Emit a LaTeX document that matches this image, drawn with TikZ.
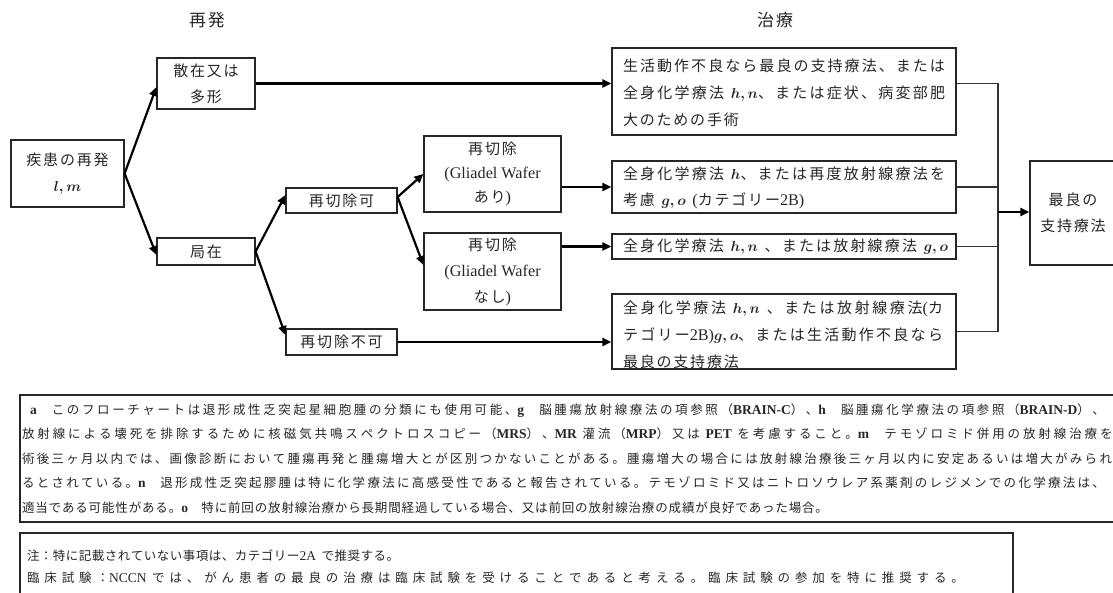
\documentclass[tikz,border=0pt]{standalone}
\usepackage{fontspec}
\setmainfont{Noto Sans CJK JP}
\newfontfamily\lat[Scale=1.08]{Liberation Serif}
\usetikzlibrary{arrows.meta}
% inter-character spacing for CJK text
\newXeTeXintercharclass\cjkc
\newcount\cjkn
\def\setcjkrange#1#2{\cjkn=#1\relax\loop\XeTeXcharclass\cjkn=\cjkc\relax\ifnum\cjkn<#2\relax\advance\cjkn by 1\relax\repeat}
\setcjkrange{"3000}{"30FF}
\setcjkrange{"4E00}{"9FFF}
\setcjkrange{"FF00}{"FFEF}
\newskip\cjkskip
\XeTeXinterchartoks\cjkc\cjkc={\hskip\cjkskip}
\XeTeXinterchartokenstate=1
\definecolor{txt}{HTML}{262626}
\newcommand\la[1]{{\lat #1}}
\newcommand\lb[1]{{\lat\bfseries #1}}
\newcommand\hm[1]{{\boldmath$#1$}}
\newcommand\gap{\hskip 0.45em\relax}
% justified line of given width, left aligned in a line of \hsize
\newcommand\jl[2]{\hbox to\hsize{\hbox to #1{\advance\cjkskip by 0pt plus 1fil\relax #2}\hss}}
% natural line, left aligned in a line of \hsize
\newcommand\nl[1]{\hbox to\hsize{#1\hss}}
\newcommand\mfont{\fontsize{15}{26}\selectfont\cjkskip=1.8pt\relax}
\newcommand\afont{\fontsize{15}{24}\selectfont\cjkskip=1.8pt\relax}
\newcommand\ffont{\fontsize{12.5}{24.5}\selectfont\cjkskip=0.8pt\relax}
\newcommand\nfont{\fontsize{12.5}{22}\selectfont\cjkskip=0.5pt\relax}
\newcommand\hfont{\fontsize{17}{20}\selectfont\cjkskip=2pt\relax}
\tikzset{
  frame/.style={draw=black!85, line width=1.2pt, inner sep=0pt, text=txt},
  box/.style={frame, align=center, font=\mfont},
  tbox/.style={frame, font=\mfont, minimum width=344pt},
  fbox/.style={frame, font=\ffont},
  hdr/.style={inner sep=0pt, text=txt, font=\hfont},
  thk/.style={line width=2.2pt, -{Triangle[length=9pt,width=8pt]}},
  thn/.style={line width=1.5pt, draw=black!80},
}
\begin{document}
\begin{tikzpicture}[x=1pt,y=-1pt]
\useasboundingbox (0,0) rectangle (1113,592);
% headers
\node[hdr] (hr) at (207,20) {再発};
\node[hdr] (ht) at (775,20) {治療};
% left tree
\node[box, minimum width=113pt, minimum height=67pt] (shikkan) at (67.5,173.5) {疾患の再発\\\hm{l, m}};
\node[box, minimum width=98pt, minimum height=51pt] (sanzai) at (206,83.5) {散在又は\\多形};
\node[box, minimum width=98pt, minimum height=27pt] (kyoku) at (206,251.5) {局在};
\node[box, minimum width=111pt, minimum height=25pt] (kakano) at (341.5,200.5) {再切除可};
\node[box, minimum width=111pt, minimum height=26pt] (fuka) at (341.5,342) {再切除不可};
\node[box, font=\afont, minimum width=137pt, minimum height=76pt] (ari) at (492.5,174) {再切除\\\la{(Gliadel Wafer}\\あり\la{)}};
\node[box, minimum width=137pt, minimum height=77pt] (nashi) at (492.5,271.5) {再切除\\\la{(Gliadel Wafer}\\なし\la{)}};
% treatment boxes
\node[tbox, minimum height=87pt] (t1) at (784,91.5) {\vbox{\hsize=322pt\baselineskip=27pt\vskip3pt
  \jl{322pt}{生活動作不良なら最良の支持療法、または}
  \jl{322pt}{全身化学療法\gap\hm{h, n}、または症状、病変部肥}
  \nl{大のための手術}}};
\node[tbox, minimum height=52pt] (t2) at (784,187) {\vbox{\hsize=322pt\baselineskip=26pt\vskip2pt
  \jl{322pt}{全身化学療法\gap\hm{h}、または再度放射線療法を}
  \nl{考慮\gap\hm{g, o}\gap\la{(}カテゴリー\la{2B)}}}};
\node[tbox, minimum height=25pt] (t3) at (784,246.5) {\vbox{\hsize=322pt\baselineskip=26pt
  \jl{325pt}{全身化学療法\gap\hm{h, n}\gap、または放射線療法\gap\hm{g, o}}}};
\node[tbox, minimum height=73pt] (t4) at (784,331.5) {\vbox{\hsize=322pt\baselineskip=27pt\vskip7pt
  \jl{320pt}{全身化学療法\gap\hm{h, n}\gap、または放射線療法\la{(}カ}
  \jl{320pt}{テゴリー\la{2B)}\hm{g, o}、または生活動作不良なら}
  \nl{最良の支持療法}}};
% final box
\node[box, minimum width=86pt, minimum height=104pt] (best) at (1073,213) {\vbox{\vskip6pt\hbox{}}最良の\\支持療法};
% footnote box
\node[fbox, minimum width=1120pt, minimum height=127pt] (foot) at (580,458.5) {\vbox{\hsize=1116pt\baselineskip=24.5pt
  \jl{1083pt}{\hskip 8pt\lb{a}　このフローチャートは退形成性乏突起星細胞腫の分類にも使用可能、\lb{g}　脳腫瘍放射線療法の項参照（\lb{BRAIN-C}）、\lb{h}　脳腫瘍化学療法の項参照（\lb{BRAIN-D}）、}
  \jl{1106pt}{放射線による壊死を排除するために核磁気共鳴スペクトロスコピー（\lb{MRS}）、\lb{MR}\gap 灌流（\lb{MRP}）又は\gap\lb{PET}\gap を考慮すること。\lb{m}　テモゾロミド併用の放射線治療を施}
  \jl{1090pt}{術後三ヶ月以内では、画像診断において腫瘍再発と腫瘍増大とが区別つかないことがある。腫瘍増大の場合には放射線治療後三ヶ月以内に安定あるいは増大がみられ}
  \jl{1083pt}{るとされている。\lb{n}　退形成性乏突起膠腫は特に化学療法に高感受性であると報告されている。テモゾロミド又はニトロソウレア系薬剤のレジメンでの化学療法は、}
  \jl{806pt}{適当である可能性がある。\lb{o}　特に前回の放射線治療から長期間経過している場合、又は前回の放射線治療の成績が良好であった場合。}}};
% note box
\node[frame, font=\nfont, minimum width=993pt, minimum height=67pt] (note) at (516.5,566.5) {\vbox{\hsize=985pt\baselineskip=22pt
  \nl{\hskip3pt 注：特に記載されていない事項は、カテゴリー\la{2A}\gap で推奨する。}
  \jl{940pt}{\hskip3pt 臨床試験：\la{NCCN}\gap では、がん患者の最良の治療は臨床試験を受けることであると考える。臨床試験の参加を特に推奨する。}}};
% connectors
\draw[thk] (shikkan.east) -- ([yshift=-3.5pt]sanzai.west);
\draw[thk] (shikkan.east) -- ([yshift=-3.5pt]kyoku.west);
\draw[thk] (kyoku.east) -- ([yshift=5.5pt]kakano.west);
\draw[thk] (kyoku.east) -- ([yshift=7pt]fuka.west);
\draw[thk] ([yshift=3.5pt]kakano.east) -- (ari.west);
\draw[thk] ([yshift=3.5pt]kakano.east) -- ([yshift=6.5pt]nashi.west);
\draw[thk] (sanzai.east) -- (sanzai.east -| t1.west);
\draw[thk] (t2.west -| ari.east) -- (t2.west);
\draw[thk] (t3.west -| nashi.east) -- (t3.west);
\draw[thk] (fuka.east) -- (fuka.east -| t4.west);
\coordinate (jx) at (998,212);
\draw[thn] (t1.east |- sanzai.east) -- (sanzai.east -| jx) -- (t4.east -| jx) -- (t4.east);
\draw[thn] (t2.east) -- (t2.east -| jx);
\draw[thn] (t3.east) -- (t3.east -| jx);
\draw[thk] (jx) -- (jx -| best.west);
\end{tikzpicture}
\end{document}
